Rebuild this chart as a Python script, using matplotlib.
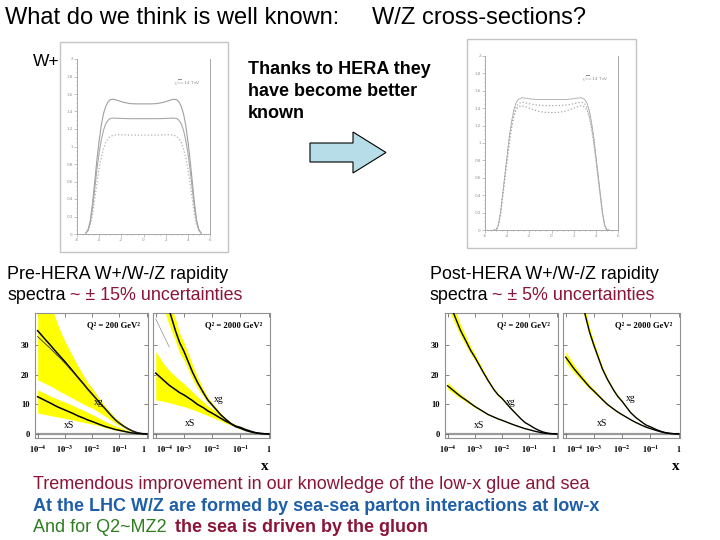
import matplotlib
matplotlib.use('Agg')
import matplotlib.pyplot as plt
from matplotlib.patches import Rectangle, Polygon

plt.rcParams['mathtext.fontset'] = 'stix'

# ---------------- data ----------------
# rapidity spectra (y, dsigma/dy)
rap = [-5.2, -5.0, -4.8, -4.6, -4.4, -4.2, -4.0, -3.8, -3.6, -3.4, -3.2, -3.0, -2.7, -2.3, -1.8, -1.2, -0.6, 0.0,
       0.6, 1.2, 1.8, 2.3, 2.7, 3.0, 3.2, 3.4, 3.6, 3.8, 4.0, 4.2, 4.4, 4.6, 4.8, 5.0, 5.2]
pre_top = [0.01, 0.05, 0.15, 0.35, 0.6, 0.85, 1.07, 1.25, 1.38, 1.46, 1.51, 1.535, 1.54, 1.525, 1.505, 1.49, 1.487, 1.487,
           1.487, 1.49, 1.505, 1.525, 1.54, 1.535, 1.51, 1.46, 1.38, 1.25, 1.07, 0.85, 0.6, 0.35, 0.15, 0.05, 0.01]
pre_mid = [0.01, 0.04, 0.13, 0.3, 0.52, 0.74, 0.93, 1.08, 1.19, 1.26, 1.30, 1.32, 1.325, 1.322, 1.32, 1.318, 1.318, 1.318,
           1.318, 1.318, 1.32, 1.322, 1.325, 1.32, 1.30, 1.26, 1.19, 1.08, 0.93, 0.74, 0.52, 0.3, 0.13, 0.04, 0.01]
pre_low = [0.01, 0.03, 0.1, 0.22, 0.4, 0.58, 0.75, 0.88, 0.98, 1.05, 1.09, 1.115, 1.13, 1.135, 1.133, 1.13, 1.13, 1.13,
           1.13, 1.13, 1.133, 1.135, 1.13, 1.115, 1.09, 1.05, 0.98, 0.88, 0.75, 0.58, 0.4, 0.22, 0.1, 0.03, 0.01]
post_top = [0.0, 0.0, 0.05, 0.2, 0.42, 0.64, 0.86, 1.08, 1.25, 1.38, 1.46, 1.5, 1.52, 1.515, 1.505, 1.5, 1.5, 1.5,
            1.5, 1.5, 1.505, 1.515, 1.52, 1.5, 1.46, 1.38, 1.25, 1.08, 0.86, 0.64, 0.42, 0.2, 0.05, 0.0, 0.0]
post_mid = [0.0, 0.0, 0.05, 0.19, 0.4, 0.62, 0.83, 1.04, 1.2, 1.33, 1.41, 1.45, 1.47, 1.46, 1.445, 1.435, 1.43, 1.43,
            1.43, 1.435, 1.445, 1.46, 1.47, 1.45, 1.41, 1.33, 1.2, 1.04, 0.83, 0.62, 0.4, 0.19, 0.05, 0.0, 0.0]
post_low = [0.0, 0.0, 0.05, 0.19, 0.39, 0.6, 0.81, 1.01, 1.17, 1.3, 1.38, 1.415, 1.43, 1.415, 1.39, 1.365, 1.352, 1.35,
            1.352, 1.365, 1.39, 1.415, 1.43, 1.415, 1.38, 1.3, 1.17, 1.01, 0.81, 0.6, 0.39, 0.19, 0.05, 0.0, 0.0]

# parton distributions vs x
xgrid = [1e-4, 2e-4, 3e-4, 5e-4, 7e-4, 1e-3, 2e-3, 3e-3, 5e-3, 7e-3, 1e-2, 2e-2, 3e-2, 5e-2, 7e-2,
         0.1, 0.15, 0.2, 0.3, 0.4, 0.5, 0.7, 1.0]
# pre-HERA, Q2 = 200
pre200_xg = [35, 31.8, 30.0, 27.6, 26.1, 24.5, 21.2, 19.2, 16.8, 15.1, 13.5, 10.3, 8.5, 6.2, 4.8,
             3.6, 2.5, 1.8, 1.0, 0.55, 0.3, 0.07, 0]
pre200_xg2 = [33, 30.4, 28.9, 26.8, 25.5, 24.0, 20.9, 19.0, 16.6, 15.0, 13.4, 10.3, 8.5, 6.2, 4.8,
              3.6, 2.5, 1.8, 1.0, 0.55, 0.3, 0.07, 0]
pre200_xg_up = [62, 50, 44, 38, 34.5, 31.5, 26, 23, 19.5, 17.3, 15.5, 11.5, 9.4, 7, 5.4,
                4.3, 2.9, 2.1, 1.1, 0.6, 0.35, 0.08, 0]
pre200_xg_lo = [18.3, 17, 16.2, 15, 14.2, 13.5, 12, 11.1, 10, 9.3, 8.8, 7, 6, 4.6, 3.6,
                2.9, 2.0, 1.4, 0.75, 0.42, 0.24, 0.05, 0]
pre200_xs = [12.6, 11.2, 10.4, 9.3, 8.7, 8.1, 6.9, 6.1, 5.3, 4.7, 4.2, 3.1, 2.5, 1.9, 1.5,
             1.2, 0.85, 0.6, 0.3, 0.16, 0.08, 0.02, 0]
pre200_xs_up = [14.9, 13.6, 12.8, 11.9, 11.3, 10.8, 9.6, 8.8, 7.9, 7.2, 6.6, 5.1, 4.2, 3.3, 2.7,
                2.2, 1.55, 1.1, 0.55, 0.3, 0.16, 0.04, 0]
pre200_xs_lo = [7.1, 6.5, 6.2, 5.8, 5.5, 5.3, 4.7, 4.3, 3.9, 3.6, 3.3, 2.6, 2.1, 1.6, 1.25,
                1.0, 0.7, 0.5, 0.25, 0.13, 0.07, 0.015, 0]
# pre-HERA, Q2 = 2000
pre2000_xg = [58, 48, 42, 35, 31, 28, 21, 17.5, 13.8, 11.5, 9.8, 6.5, 5, 3.2, 2.4,
              1.9, 1.2, 0.85, 0.45, 0.25, 0.13, 0.03, 0]
pre2000_xg_up = [70, 52, 45, 39, 34, 31, 23.5, 19.3, 15, 12.4, 10.5, 7, 5.3, 3.5, 2.6,
                 2.1, 1.35, 0.95, 0.5, 0.28, 0.15, 0.035, 0]
pre2000_xg_lo = [50, 42, 37, 31.5, 27.5, 25, 18.5, 15.5, 12.5, 10.6, 9.1, 6.0, 4.6, 2.9, 2.2,
                 1.7, 1.1, 0.75, 0.4, 0.22, 0.11, 0.025, 0]
pre2000_xs = [20.6, 18, 16.5, 15, 14, 13.2, 11.3, 10, 8.8, 7.8, 7.0, 5.3, 4.3, 3.3, 2.6,
              2.2, 1.5, 1.1, 0.55, 0.3, 0.16, 0.04, 0]
pre2000_xs_up = [27.9, 23.5, 21.5, 19.5, 18.2, 17, 14.3, 12.6, 10.8, 9.5, 8.5, 6.2, 5.0, 3.8, 3.0,
                 2.5, 1.7, 1.25, 0.62, 0.34, 0.18, 0.045, 0]
pre2000_xs_lo = [11.5, 11, 10.6, 10, 9.6, 9.3, 8.3, 7.6, 6.8, 6.2, 5.6, 4.4, 3.6, 2.8, 2.3,
                 1.9, 1.3, 0.95, 0.48, 0.26, 0.14, 0.035, 0]
pre2000_thin_x = [1e-4, 2e-4, 3e-4]
pre2000_thin_y = [39, 33, 29.5]
# post-HERA
post200_xg = [46, 39, 35, 31, 28.3, 26, 21, 18.2, 15, 13.3, 12, 8.8, 7.1, 5.0, 3.8,
              3.0, 2.0, 1.4, 0.7, 0.38, 0.2, 0.05, 0]
post200_xs = [16.3, 14.0, 12.7, 11.3, 10.3, 9.3, 7.6, 6.6, 5.7, 5.1, 4.6, 3.5, 2.9, 2.2, 1.75,
              1.4, 0.95, 0.7, 0.35, 0.18, 0.1, 0.02, 0]
post2000_xg = [78, 60, 50, 40, 34.5, 30, 22, 18.5, 14.8, 12.7, 11.0, 7.2, 5.6, 4.0, 3.0,
               2.4, 1.6, 1.1, 0.55, 0.3, 0.16, 0.04, 0]
post2000_xs = [26, 22, 20, 17.5, 15.9, 14.5, 11.6, 10, 8.4, 7.4, 6.5, 4.8, 3.9, 2.9, 2.3,
               1.8, 1.25, 0.9, 0.45, 0.24, 0.13, 0.03, 0]
post_rel_unc = [0.07, 0.06, 0.055, 0.05, 0.045, 0.04, 0.035, 0.03, 0.03, 0.03, 0.03, 0.03, 0.03, 0.03, 0.03,
                0.03, 0.035, 0.04, 0.05, 0.05, 0.05, 0.05, 0.05]

x_ticks = [1e-4, 1e-3, 1e-2, 1e-1, 1.0]
x_ticklabels = [r'$\mathbf{10^{-4}}$', r'$\mathbf{10^{-3}}$', r'$\mathbf{10^{-2}}$', r'$\mathbf{10^{-1}}$', r'$\mathbf{1}$']
y_ticks = [0, 10, 20, 30]

# ---------------- figure ----------------
W, H = 720, 540
fig = plt.figure(figsize=(7.2, 5.4), dpi=100)
fig.patch.set_facecolor('white')
SANS = 'Liberation Sans'
SERIF = 'Liberation Serif'
DARKRED = '#8B1538'
BLUE = '#1F5FA8'
GREEN = '#2E7D1E'
YELLOW = '#FFFF00'


def px_axes(x0, y0, x1, y1):
    return fig.add_axes([x0 / W, 1 - y1 / H, (x1 - x0) / W, (y1 - y0) / H])


def ftext(x, y, s, **kw):
    return fig.text(x / W, 1 - y / H, s, **kw)


def ftext_after(prev, s, gap=4, **kw):
    fig.canvas.draw()
    bb = prev.get_window_extent()
    x = bb.x1 + gap
    y = prev.get_position()[1]
    return fig.text(x / W, y, s, **kw)


def frame(x0, y0, x1, y1):
    fig.add_artist(Rectangle((x0 / W, 1 - y1 / H), (x1 - x0) / W, (y1 - y0) / H,
                             transform=fig.transFigure, fill=False, ec='#c4c4c4', lw=1.0))


def rap_axes(box, curves, styles, label_xy):
    ax = px_axes(*box)
    ax.set_facecolor('none')
    for c, (col, ls, lw) in zip(curves, styles):
        ax.plot(rap, c, color=col, ls=ls, lw=lw)
    ax.set_xlim(-6, 6)
    ax.set_ylim(0, 2)
    for s in ['left', 'bottom', 'right']:
        ax.spines[s].set_color('#a8a8a8')
        ax.spines[s].set_linewidth(0.7)
    ax.spines['top'].set_visible(False)
    ax.set_xticks(range(-6, 7, 2))
    ax.set_xticklabels([str(v) for v in range(-6, 7, 2)])
    yt = [i * 0.2 for i in range(11)]
    ax.set_yticks(yt)
    ax.set_yticklabels(['0', '0.2', '0.4', '0.6', '0.8', '1', '1.2', '1.4', '1.6', '1.8', '2'])
    ax.minorticks_on()
    ax.tick_params(which='both', direction='out', colors='#a8a8a8', labelsize=3, length=2, width=0.5,
                   labelcolor='#909090', pad=1)
    ax.tick_params(which='minor', length=1)
    ax.text(label_xy[0], label_xy[1], r'$\sqrt{s}$=14 TeV', fontsize=3.2, color='#909090',
            transform=ax.transAxes, ha='right')
    return ax


def pdf_axes(box, show_ylabels):
    ax = px_axes(*box)
    ax.set_xscale('log')
    ax.set_xlim(0.8e-4, 1.12)
    ax.set_ylim(-1.4, 41)
    ax.axhline(0, color='#9a9a9a', lw=1.6, zorder=1)
    ax.set_xticks(x_ticks)
    ax.set_xticklabels(x_ticklabels, fontsize=6)
    labs = ax.get_xticklabels()
    if show_ylabels:
        labs[-1].set_horizontalalignment('right')
    else:
        labs[0].set_horizontalalignment('left')
    ax.set_yticks(y_ticks)
    if show_ylabels:
        ax.set_yticklabels([str(v) for v in y_ticks], fontsize=6, fontfamily=SERIF, fontweight='bold')
    else:
        ax.set_yticklabels([])
    ax.tick_params(which='both', direction='in', top=True, right=True, length=3, width=0.6,
                   color='#707070', pad=4)
    ax.tick_params(which='minor', length=1.8)
    for s in ax.spines.values():
        s.set_color('#909090')
        s.set_linewidth(0.8)
    return ax


def qlabel(ax, s):
    ax.text(0.93, 0.93, s, transform=ax.transAxes, ha='right', va='top', fontsize=6.2,
            fontfamily=SERIF, fontweight='bold')


def plabel(ax, x, y, s):
    ax.text(x, y, s, fontsize=7, fontfamily=SERIF, ha='center', va='center')


# ---- title ----
ftext(5, 18, 'What do we think is well known:', fontsize=17, fontfamily=SANS, va='center')
ftext(372, 18, 'W/Z cross-sections?', fontsize=17, fontfamily=SANS, va='center')

# ---- rapidity plots ----
frame(60, 42, 228, 252)
rap_axes((77, 59, 210, 234), [pre_top, pre_mid, pre_low],
         [('#a0a0a0', '-', 0.8), ('#a8a8a8', '-', 0.8), ('#b0b0b0', ':', 0.9)], (0.93, 0.86))
ftext(33, 62, 'W+', fontsize=12.5, fontfamily=SANS, va='center')

frame(467, 39, 636, 248)
rap_axes((485, 56, 618, 230), [post_top, post_mid, post_low],
         [('#a8a8a8', '-', 0.6), ('#a8a8a8', ':', 0.9), ('#a8a8a8', ':', 0.9)], (0.93, 0.86))

# ---- middle text and arrow ----
for i, line in enumerate(['Thanks to HERA they', 'have become better', 'known']):
    ftext(248, 70 + 21.5 * i, line, fontsize=13, fontfamily=SANS, fontweight='bold', va='center')
arrow_pts = [(310, 143), (353, 143), (353, 132), (386, 152.5), (353, 173), (353, 162), (310, 162)]
fig.add_artist(Polygon([(px / W, 1 - py / H) for px, py in arrow_pts], closed=True,
                       transform=fig.transFigure, fc='#B7DEE8', ec='black', lw=0.8))

# ---- captions ----
CAP = 12.9
ftext(7, 279, 'Pre-HERA W+/W-/Z rapidity', fontsize=CAP, fontfamily=SANS, va='baseline')
t = ftext(7, 300, 'spectra', fontsize=CAP, fontfamily=SANS, va='baseline')
ftext_after(t, '~ \u00b1 15% uncertainties', fontsize=CAP, fontfamily=SANS, va='baseline', color=DARKRED)
ftext(430, 279, 'Post-HERA W+/W-/Z rapidity', fontsize=CAP, fontfamily=SANS, va='baseline')
t = ftext(430, 300, 'spectra', fontsize=CAP, fontfamily=SANS, va='baseline')
ftext_after(t, '~ \u00b1 5% uncertainties', fontsize=CAP, fontfamily=SANS, va='baseline', color=DARKRED)

# ---- PDF panels: pre-HERA ----
a = pdf_axes((35, 313, 148, 438), True)
a.fill_between(xgrid, pre200_xg_lo, pre200_xg_up, color=YELLOW, lw=0, zorder=2)
a.fill_between(xgrid, pre200_xs_lo, pre200_xs_up, color=YELLOW, lw=0, zorder=2)
a.plot(xgrid, pre200_xg, color='black', lw=1.1, zorder=3)
a.plot(xgrid, pre200_xg2, color='#303030', lw=0.6, zorder=3)
a.plot(xgrid, pre200_xs, color='black', lw=1.1, zorder=3)
qlabel(a, 'Q\u00b2 = 200 GeV\u00b2')
plabel(a, 10 ** -1.75, 10.8, 'xg')
plabel(a, 10 ** -2.84, 2.8, 'xS')

a = pdf_axes((153, 313, 270, 438), False)
a.fill_between(xgrid, pre2000_xg_lo, pre2000_xg_up, color=YELLOW, lw=0, zorder=2)
a.fill_between(xgrid, pre2000_xs_lo, pre2000_xs_up, color=YELLOW, lw=0, zorder=2)
a.plot(pre2000_thin_x, pre2000_thin_y, color='#909090', lw=0.5, zorder=3)
a.plot(xgrid, pre2000_xg, color='black', lw=1.1, zorder=3)
a.plot(xgrid, pre2000_xs, color='black', lw=1.1, zorder=3)
qlabel(a, 'Q\u00b2 = 2000 GeV\u00b2')
plabel(a, 10 ** -1.78, 11.8, 'xg')
plabel(a, 10 ** -2.78, 3.6, 'xS')

# ---- PDF panels: post-HERA ----
for box, xg, xs, q, show, lab in [((445, 313, 558, 438), post200_xg, post200_xs, 'Q\u00b2 = 200 GeV\u00b2', True,
                                   ((-1.7, 10.8), (-2.84, 3.0))),
                                  ((563, 313, 680, 438), post2000_xg, post2000_xs, 'Q\u00b2 = 2000 GeV\u00b2', False,
                                   ((-1.7, 12.1), (-2.72, 3.6)))]:
    a = pdf_axes(box, show)
    for c in (xg, xs):
        lo = [v * (1 - u) for v, u in zip(c, post_rel_unc)]
        hi = [v * (1 + u) for v, u in zip(c, post_rel_unc)]
        a.fill_between(xgrid, lo, hi, color=YELLOW, lw=0, zorder=2)
        a.plot(xgrid, c, color='black', lw=1.0, zorder=3)
    qlabel(a, q)
    plabel(a, 10 ** lab[0][0], lab[0][1], 'xg')
    plabel(a, 10 ** lab[1][0], lab[1][1], 'xS')

ftext(265, 467, 'x', fontsize=11, fontfamily=SERIF, fontweight='bold', ha='center', va='center')
ftext(676, 467, 'x', fontsize=11, fontfamily=SERIF, fontweight='bold', ha='center', va='center')

# ---- bottom text ----
BT = 13
ftext(33, 489, 'Tremendous improvement in our knowledge of the low-x glue and sea', fontsize=BT,
      fontfamily=SANS, color=DARKRED, va='baseline')
ftext(33, 511, 'At the LHC W/Z are formed by sea-sea parton interactions at low-x', fontsize=BT,
      fontfamily=SANS, fontweight='bold', color=BLUE, va='baseline')
t = ftext(33, 532, 'And for Q2~MZ2', fontsize=BT, fontfamily=SANS, color=GREEN, va='baseline')
ftext_after(t, 'the sea is driven by the gluon', gap=8, fontsize=BT, fontfamily=SANS, fontweight='bold',
            color=DARKRED, va='baseline')

fig.savefig('out.png', dpi=100, facecolor='white')
